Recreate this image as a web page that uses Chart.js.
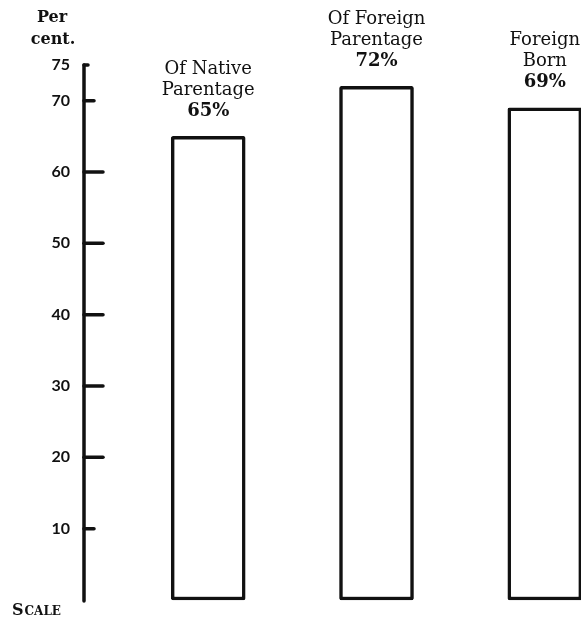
<!DOCTYPE html>
<html>
<head>
<meta charset="utf-8">
<script src="https://cdn.jsdelivr.net/npm/chart.js@4.4.1/dist/chart.umd.min.js"></script>
<style>
  body { margin: 0; background: #fff; }
</style>
</head>
<body>
<canvas id="myChart" width="581" height="618"></canvas>
<script>
// values
const categories = [['Of Native', 'Parentage'], ['Of Foreign', 'Parentage'], ['Foreign', 'Born']];
const percentages = [65, 72, 69];
const tickValues = [10, 20, 30, 40, 50, 60, 70, 75];

const ink = '#111';

// draws the hand-ruled scale on the left (line + ticks of different length)
const scaleLine = {
  id: 'scaleLine',
  afterDraw(chart) {
    const ctx = chart.ctx;
    const y = chart.scales.y;
    const x0 = chart.chartArea.left;
    ctx.save();
    ctx.strokeStyle = ink;
    ctx.lineCap = 'round';
    ctx.lineWidth = 3.5;
    ctx.beginPath();
    ctx.moveTo(x0, y.getPixelForValue(75));
    ctx.lineTo(x0, y.getPixelForValue(0) + 1);
    ctx.stroke();
    tickValues.forEach((v) => {
      let len = 19;
      if (v === 75) len = 4;
      if (v === 70 || v === 10) len = 10;
      const py = y.getPixelForValue(v);
      ctx.beginPath();
      ctx.moveTo(x0, py);
      ctx.lineTo(x0 + len, py);
      ctx.stroke();
    });

    ctx.fillStyle = ink;
    ctx.textAlign = 'center';
    ctx.textBaseline = 'middle';
    ctx.font = 'bold 16px "DejaVu Serif"';
    ctx.fillText('Per', 52, 18);
    ctx.fillText('cent.', 53, 40);

    // small caps "Scale"
    ctx.textAlign = 'left';
    ctx.textBaseline = 'alphabetic';
    ctx.font = 'bold 16px "DejaVu Serif"';
    ctx.fillText('S', 12, 615);
    const w = ctx.measureText('S').width;
    ctx.font = 'bold 12px "DejaVu Serif"';
    ctx.fillText('CALE', 12 + w + 1, 615);
    ctx.restore();
  }
};

// labels above each bar
const barLabels = {
  id: 'barLabels',
  afterDatasetsDraw(chart) {
    const ctx = chart.ctx;
    const meta = chart.getDatasetMeta(0);
    ctx.save();
    ctx.fillStyle = ink;
    ctx.textAlign = 'center';
    ctx.textBaseline = 'middle';
    meta.data.forEach((bar, i) => {
      const pctY = bar.y - 25;
      ctx.font = 'bold 18px "DejaVu Serif"';
      ctx.fillText(percentages[i] + '%', bar.x, pctY);
      ctx.font = '18px "DejaVu Serif"';
      const lines = categories[i];
      lines.forEach((line, j) => {
        ctx.fillText(line, bar.x, pctY - 21 * (lines.length - j));
      });
    });
    ctx.restore();
  }
};

const ctx = document.getElementById('myChart').getContext('2d');
new Chart(ctx, {
  type: 'bar',
  data: {
    datasets: [{
      data: percentages.map((v, i) => ({ x: i + 1, y: v })),
      backgroundColor: '#fff',
      borderColor: ink,
      borderWidth: 3.5,
      borderSkipped: false,
      borderRadius: 2,
      barThickness: 74,
      clip: false,
    }],
  },
  options: {
    responsive: false,
    animation: false,
    layout: { padding: { top: 65, bottom: 18, left: 0, right: 0 } },
    plugins: {
      legend: { display: false },
      tooltip: { enabled: false },
    },
    scales: {
      x: {
        type: 'linear',
        offset: false,
        grid: { offset: false },
        min: 0.262,
        max: 3.215,
        display: false,
      },
      y: {
        min: 0,
        max: 75,
        afterFit: (scale) => {
          scale.width = 84;
          scale.paddingTop = 0;
          scale.paddingBottom = 0;
        },
        afterBuildTicks: (scale) => {
          scale.ticks = tickValues.map((v) => ({ value: v }));
        },
        grid: { display: false, drawTicks: false },
        border: { display: false },
        ticks: {
          padding: 14,
          color: ink,
          font: { family: 'Lato', weight: 'bold', size: 16 },
        },
      },
    },
  },
  plugins: [scaleLine, barLabels],
});
</script>
</body>
</html>
